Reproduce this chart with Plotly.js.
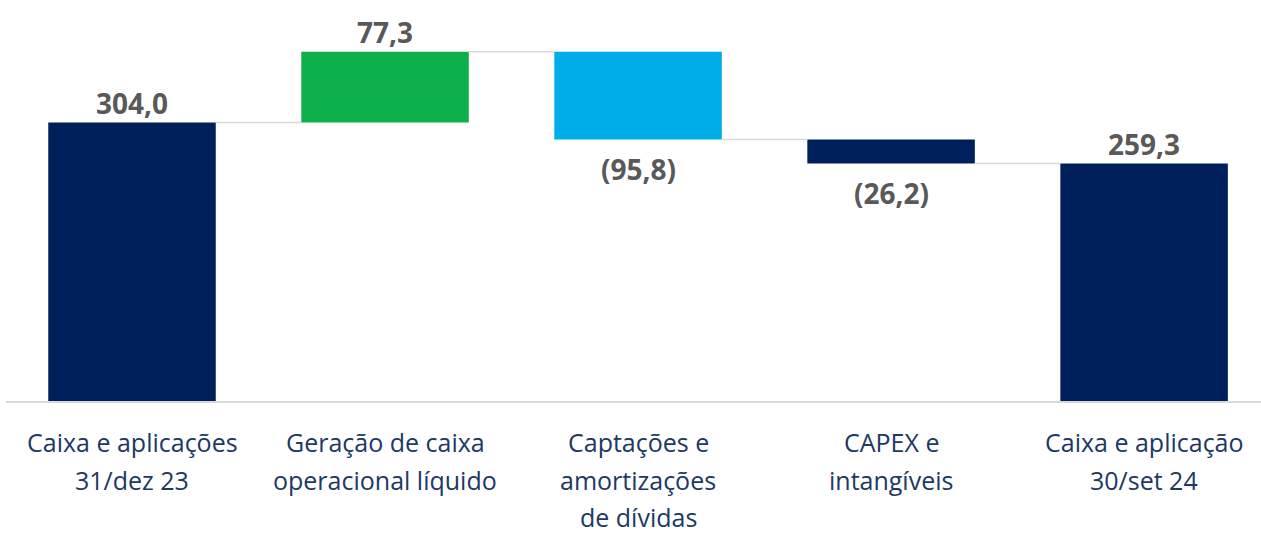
<!DOCTYPE html>
<html>
<head>
<meta charset="utf-8">
<script src="https://cdn.plot.ly/plotly-3.0.1.min.js"></script>
<style>
html,body{margin:0;padding:0;background:#fff;}
#chart{width:1261px;height:534px;}
</style>
</head>
<body>
<div id="chart"></div>
<script>
// ---- data ----
const categories = [
  "Caixa e aplicações<br>31/dez 23",
  "Geração de caixa<br>operacional líquido",
  "Captações e<br>amortizações<br>de dívidas",
  "CAPEX e<br>intangíveis",
  "Caixa e aplicação<br>30/set 24"
];
const values = [304.0, 77.3, -95.8, -26.2, 259.3];
const measures = ["total", "relative", "relative", "relative", "total"];
const barColors = ["#00205B", "#0DB04B", "#00ADE8", "#00205B", "#00205B"];

// ---- derived ----
const xs = values.map((v, i) => i);
const bases = [], heights = [], levels = [];
let running = 0;
values.forEach((v, i) => {
  if (measures[i] === "total") { bases.push(0); heights.push(v); running = v; }
  else { bases.push(running); heights.push(v); running += v; }
  levels.push(running);
});
const barW = 0.662;

function fmt(v) {
  const s = Math.abs(v).toFixed(1).replace(".", ",");
  return v < 0 ? "(" + s + ")" : s;
}

const shapes = [];
for (let i = 0; i < values.length - 1; i++) {
  shapes.push({
    type: "line", xref: "x", yref: "y",
    x0: xs[i] + barW / 2, x1: xs[i + 1] - barW / 2,
    y0: levels[i], y1: levels[i],
    line: {color: "#D9D9D9", width: 1.5}
  });
}

const annotations = [];
values.forEach((v, i) => {
  const top = Math.max(bases[i], bases[i] + heights[i]);
  const bot = Math.min(bases[i], bases[i] + heights[i]);
  const neg = measures[i] === "relative" && v < 0;
  annotations.push({
    x: xs[i], y: neg ? bot : top, xref: "x", yref: "y",
    text: "<b>" + fmt(v) + "</b>", showarrow: false,
    yanchor: "middle", yshift: neg ? -29 : 20,
    font: {family: "Open Sans, Noto Sans, sans-serif", size: 28, color: "#595959"}
  });
  const lines = categories[i].split("<br>");
  lines.forEach((ln, j) => {
    annotations.push({
      x: xs[i], y: 0, xref: "x", yref: "y",
      text: ln, showarrow: false, yanchor: "middle",
      yshift: -(41 + 37.5 * j),
      font: {family: "Open Sans, Noto Sans, sans-serif", size: 25, color: "#203864"}
    });
  });
});

const trace = {
  type: "bar",
  x: xs, y: heights, base: bases,
  width: barW,
  marker: {color: barColors, line: {width: 0}},
  hoverinfo: "skip"
};

const layout = {
  width: 1261, height: 534,
  margin: {l: 0, r: 0, t: 20, b: 133, pad: 0},
  paper_bgcolor: "#ffffff", plot_bgcolor: "#ffffff",
  showlegend: false,
  xaxis: {
    type: "linear", domain: [6 / 1261, 1],
    range: [-0.498, 4.462],
    showgrid: false, zeroline: false, showticklabels: false, ticks: "",
    showline: true, linecolor: "#D9D9D9", linewidth: 1.5
  },
  yaxis: {
    range: [0, 416], visible: false, showgrid: false, zeroline: false
  },
  shapes: shapes,
  annotations: annotations
};

Plotly.newPlot("chart", [trace], layout, {displayModeBar: false, staticPlot: true});
</script>
</body>
</html>
